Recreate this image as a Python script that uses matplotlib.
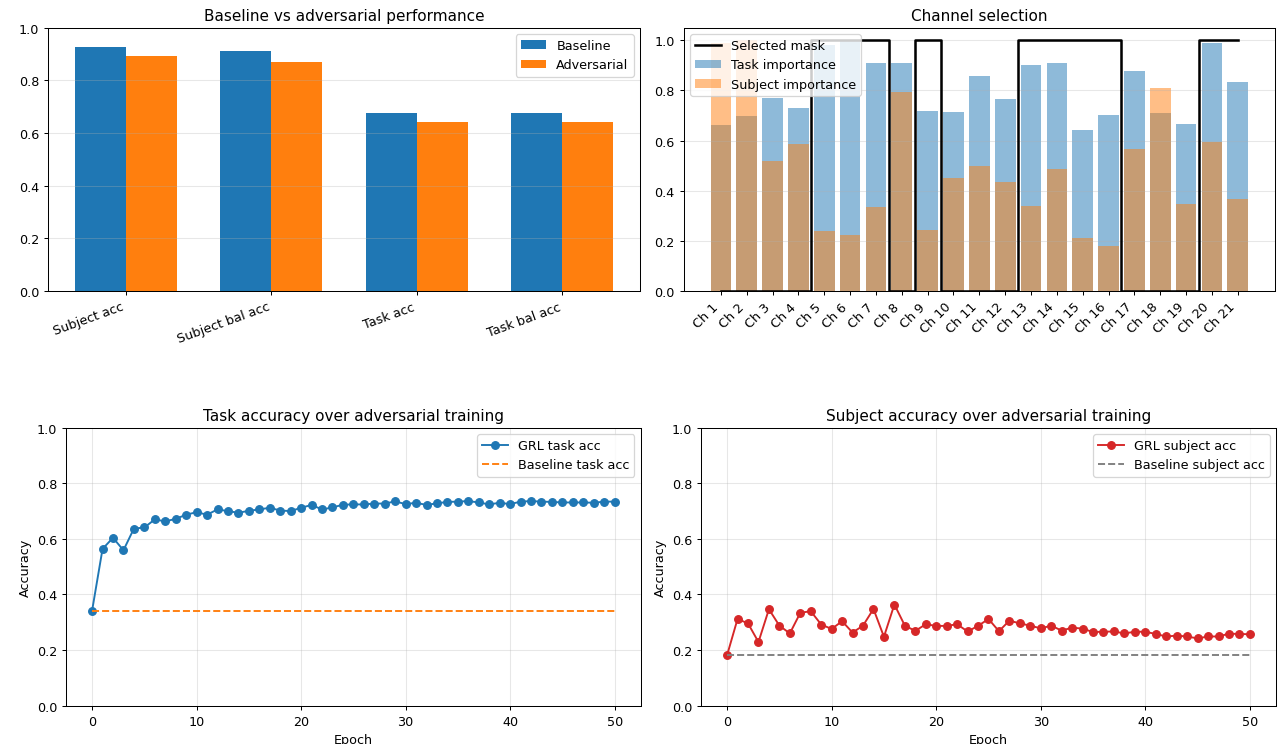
import numpy as np
import matplotlib.pyplot as plt

# summary metrics
metric_names = ['Subject acc', 'Subject bal acc', 'Task acc', 'Task bal acc']
baseline_scores = [0.927, 0.911, 0.677, 0.677]
adversarial_scores = [0.893, 0.871, 0.643, 0.643]

# per-channel importances and the chosen mask
channels = [f'Ch {i}' for i in range(1, 22)]
task_importance = [0.663, 0.696, 0.770, 0.731, 0.979, 1.000, 0.909, 0.910, 0.716, 0.714, 0.857,
                   0.765, 0.902, 0.911, 0.644, 0.700, 0.876, 0.708, 0.667, 0.987, 0.832]
subject_importance = [0.990, 1.000, 0.519, 0.587, 0.239, 0.222, 0.336, 0.794, 0.245, 0.450, 0.499,
                      0.435, 0.340, 0.488, 0.210, 0.180, 0.565, 0.808, 0.348, 0.594, 0.368]
selected_mask = [0, 0, 0, 0, 1, 1, 1, 0, 1, 0, 0, 0, 1, 1, 1, 1, 0, 0, 0, 1, 1]

# training curves
epochs = np.arange(51)
grl_task_acc = [0.342, 0.564, 0.604, 0.559, 0.637, 0.641, 0.670, 0.663, 0.672, 0.687, 0.696,
                0.687, 0.706, 0.700, 0.694, 0.701, 0.706, 0.712, 0.702, 0.700, 0.712, 0.722,
                0.706, 0.713, 0.723, 0.724, 0.724, 0.727, 0.727, 0.735, 0.725, 0.730, 0.722,
                0.728, 0.733, 0.734, 0.736, 0.731, 0.724, 0.730, 0.725, 0.734, 0.736, 0.734,
                0.733, 0.731, 0.731, 0.731, 0.730, 0.734, 0.734]
baseline_task_acc = 0.342
grl_subject_acc = [0.182, 0.312, 0.296, 0.229, 0.347, 0.288, 0.260, 0.334, 0.340, 0.292, 0.276,
                   0.304, 0.263, 0.288, 0.348, 0.248, 0.364, 0.288, 0.269, 0.293, 0.287, 0.287,
                   0.293, 0.267, 0.287, 0.312, 0.268, 0.306, 0.296, 0.288, 0.278, 0.288, 0.270,
                   0.281, 0.277, 0.265, 0.266, 0.267, 0.260, 0.266, 0.266, 0.258, 0.249, 0.252,
                   0.249, 0.242, 0.249, 0.249, 0.259, 0.258, 0.257]
baseline_subject_acc = 0.182

fig = plt.figure(figsize=(14, 8.142), dpi=91.5)
ax1 = fig.add_axes([0.0375, 0.608, 0.4621, 0.3535])
ax2 = fig.add_axes([0.5337, 0.608, 0.4616, 0.3535])
ax3 = fig.add_axes([0.0515, 0.0514, 0.4487, 0.3732])
ax4 = fig.add_axes([0.5472, 0.0514, 0.4489, 0.3732])

# baseline vs adversarial
x = np.arange(len(metric_names))
w = 0.35
ax1.bar(x - w/2, baseline_scores, w, label='Baseline')
ax1.bar(x + w/2, adversarial_scores, w, label='Adversarial')
ax1.set_xticks(x)
ax1.set_xticklabels(metric_names, rotation=20, ha='right')
ax1.set_ylim(0, 1)
ax1.set_title('Baseline vs adversarial performance')
ax1.legend()
ax1.grid(axis='y', alpha=0.3)

# channel selection
xc = np.arange(len(channels))
ax2.bar(xc, task_importance, alpha=0.5, label='Task importance')
ax2.bar(xc, subject_importance, alpha=0.5, label='Subject importance')
ax2.step(xc, selected_mask, where='mid', color='k', linewidth=2, label='Selected mask')
ax2.set_xticks(xc)
ax2.set_xticklabels(channels, rotation=45, ha='right')
ax2.set_title('Channel selection')
ax2.legend(loc='upper left')
ax2.grid(axis='y', alpha=0.3)

# task accuracy
ax3.plot(epochs, grl_task_acc, 'o-', label='GRL task acc')
ax3.plot(epochs, [baseline_task_acc] * len(epochs), '--', label='Baseline task acc')
ax3.set_ylim(0, 1)
ax3.set_xlabel('Epoch')
ax3.set_ylabel('Accuracy')
ax3.set_title('Task accuracy over adversarial training')
ax3.legend(loc='upper right')
ax3.grid(alpha=0.3)

# subject accuracy
ax4.plot(epochs, grl_subject_acc, 'o-', color='tab:red', label='GRL subject acc')
ax4.plot(epochs, [baseline_subject_acc] * len(epochs), '--', color='gray', label='Baseline subject acc')
ax4.set_ylim(0, 1)
ax4.set_xlabel('Epoch')
ax4.set_ylabel('Accuracy')
ax4.set_title('Subject accuracy over adversarial training')
ax4.legend(loc='upper right')
ax4.grid(alpha=0.3)

fig.savefig('out.png', dpi=91.5)
